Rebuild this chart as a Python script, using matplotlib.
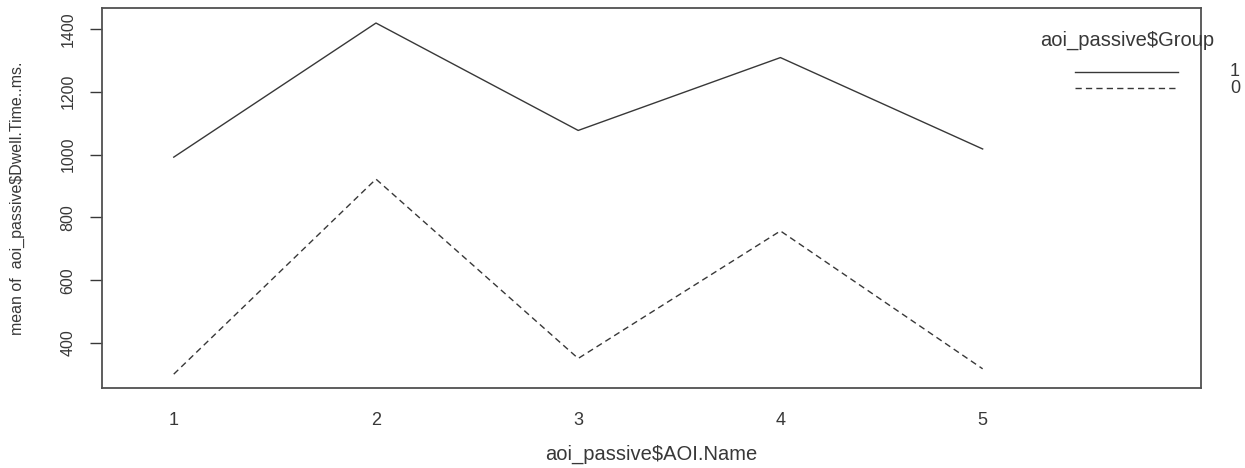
import numpy as np
import matplotlib.pyplot as plt

plt.rcParams['font.family'] = ['Liberation Sans', 'DejaVu Sans']

# mean dwell time per AOI, by group
aoi = [1, 2, 3, 4, 5]
group_1 = [992, 1419, 1077, 1309, 1018]
group_0 = [301, 922, 351, 757, 318]
groups = ['1', '0']

ink = '#383838'
dash = (0, (4.5, 3))

fig = plt.figure(figsize=(12.45, 4.68), dpi=100)
ax = fig.add_axes([0.0819, 0.171, 0.8828, 0.812])

ax.plot(aoi, group_1, color=ink, lw=1.0, linestyle='-')
ax.plot(aoi, group_0, color=ink, lw=1.0, linestyle=dash)

ax.set_xlim(0.645, 6.08)
ax.set_ylim(257, 1467)
ax.set_xticks(aoi)
ax.set_xticklabels([str(a) for a in aoi])
ax.set_yticks([400, 600, 800, 1000, 1200, 1400])
ax.tick_params(axis='x', length=0, pad=17, labelsize=13, colors=ink)
ax.tick_params(axis='y', length=9, width=1, pad=10, labelsize=11.5, colors=ink)
for lab in ax.get_yticklabels():
    lab.set_rotation(90)
    lab.set_va('center')
for sp in ax.spines.values():
    sp.set_color('#505050')
    sp.set_linewidth(1.3)

ax.set_xlabel('aoi_passive$AOI.Name', fontsize=14.5, color=ink, labelpad=12)
ax.set_ylabel('mean of  aoi_passive$Dwell.Time..ms.', fontsize=11.5, color=ink)
ax.yaxis.set_label_coords(-0.070, 0.5)

# legend drawn R style, labels sit outside the box
ax.text(0.933, 0.916, 'aoi_passive$Group', transform=ax.transAxes,
        ha='center', va='center', fontsize=14.5, color=ink)
styles = ['-', dash]
for i, (g, ls) in enumerate(zip(groups, styles)):
    yy = 0.832 - i * 0.043
    ax.plot([0.885, 0.979], [yy, yy], transform=ax.transAxes, color=ink,
            lw=1.0, linestyle=ls, clip_on=False)
    ax.text(1.031, yy, g, transform=ax.transAxes, ha='center', va='center',
            fontsize=13, color=ink, clip_on=False)

fig.savefig('out.png', dpi=100)
